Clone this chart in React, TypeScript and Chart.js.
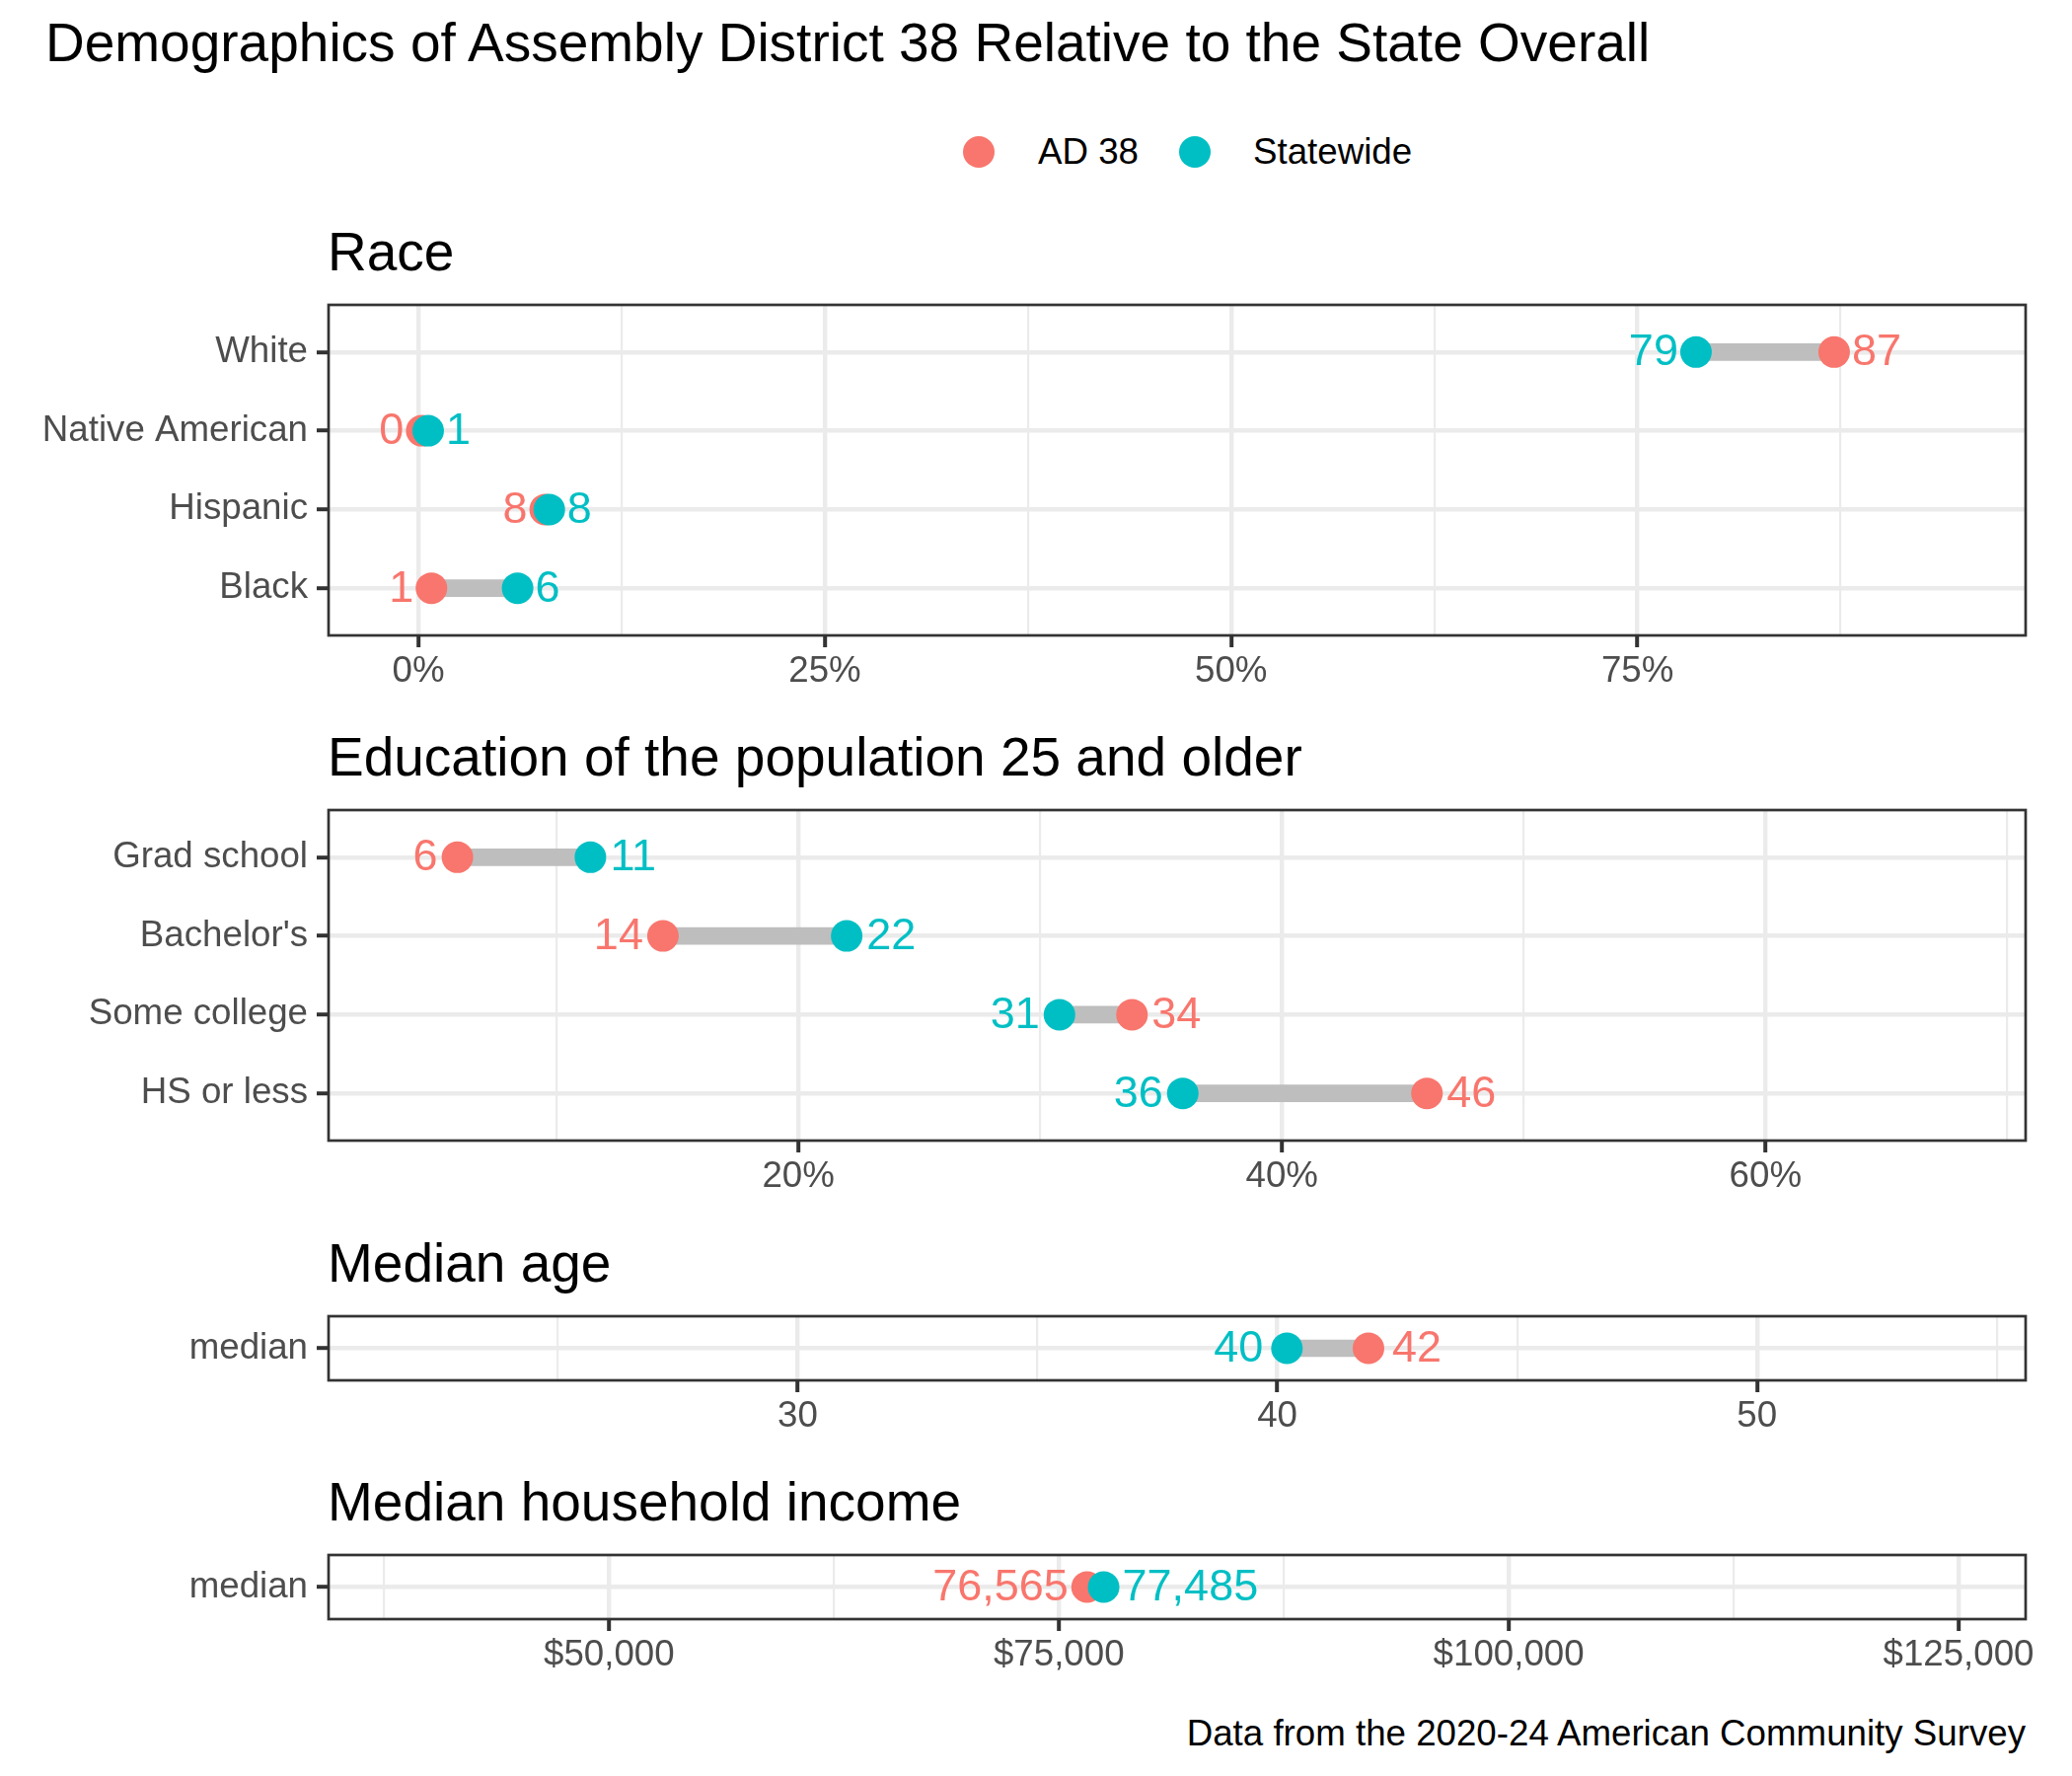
import React, { useEffect, useRef } from 'react';
import { Chart, registerables } from 'chart.js';

Chart.register(...registerables);

const FONT = '"Liberation Sans", Arial, Helvetica, sans-serif';
const AD_COLOR = '#F8766D';
const SW_COLOR = '#00BFC4';

// ---------- data ----------
const seriesNames = ['AD 38', 'Statewide'];

const raceCategories = ['White', 'Native American', 'Hispanic', 'Black'];
const raceAD = [87.1, 0.2, 7.8, 0.8];
const raceSW = [78.6, 0.6, 8.05, 6.1];
const raceTicks = [0, 25, 50, 75];
const raceMinorTicks = [12.5, 37.5, 62.5, 87.5];
const raceRange = [-5.53, 98.88];

const eduCategories = ['Grad school', "Bachelor's", 'Some college', 'HS or less'];
const eduAD = [5.9, 14.4, 33.8, 46.0];
const eduSW = [11.4, 22.0, 30.8, 35.9];
const eduTicks = [20, 40, 60];
const eduMinorTicks = [10, 30, 50, 70];
const eduRange = [0.57, 70.76];

const ageCategories = ['median'];
const ageAD = [41.9];
const ageSW = [40.2];
const ageTicks = [30, 40, 50];
const ageMinorTicks = [25, 35, 45, 55];
const ageRange = [20.22, 55.6];

const incomeCategories = ['median'];
const incomeAD = [76565];
const incomeSW = [77485];
const incomeTicks = [50000, 75000, 100000, 125000];
const incomeMinorTicks = [37500, 62500, 87500, 112500];
const incomeRange = [34408, 128728];

const mainTitle = 'Demographics of Assembly District 38 Relative to the State Overall';
const caption = 'Data from the 2020-24 American Community Survey';

// ---------- layout ----------
const PANEL_LEFT = 333;
const PANEL_RIGHT = 2053;
const PAD_TOP = 80;
const AXIS_H = 70;

const pct = (v: number) => `${v}%`;
const plain = (v: number) => `${v}`;
const dollars = (v: number) => `$${v.toLocaleString('en-US')}`;
const rounded = (v: number) => `${Math.round(v)}`;
const commas = (v: number) => v.toLocaleString('en-US');

type PanelSpec = {
  title: string;
  categories: string[];
  ad: number[];
  sw: number[];
  ticks: number[];
  minor: number[];
  range: number[];
  tickFmt: (v: number) => string;
  valueFmt: (v: number) => string;
  top: number;
  height: number;
  gap: number;
};

const panels: PanelSpec[] = [
  { title: 'Race', categories: raceCategories, ad: raceAD, sw: raceSW, ticks: raceTicks, minor: raceMinorTicks, range: raceRange, tickFmt: pct, valueFmt: rounded, top: 309, height: 335, gap: 18 },
  { title: 'Education of the population 25 and older', categories: eduCategories, ad: eduAD, sw: eduSW, ticks: eduTicks, minor: eduMinorTicks, range: eduRange, tickFmt: pct, valueFmt: rounded, top: 821, height: 335, gap: 20 },
  { title: 'Median age', categories: ageCategories, ad: ageAD, sw: ageSW, ticks: ageTicks, minor: ageMinorTicks, range: ageRange, tickFmt: plain, valueFmt: rounded, top: 1334, height: 65, gap: 24 },
  { title: 'Median household income', categories: incomeCategories, ad: incomeAD, sw: incomeSW, ticks: incomeTicks, minor: incomeMinorTicks, range: incomeRange, tickFmt: dollars, valueFmt: commas, top: 1576, height: 65, gap: 19 },
];

function Panel({ spec }: { spec: PanelSpec }) {
  const ref = useRef<HTMLCanvasElement | null>(null);
  const H = PAD_TOP + spec.height + AXIS_H;

  useEffect(() => {
    const canvas = ref.current;
    if (!canvas) return;
    const { categories, ad, sw, ticks, minor } = spec;
    const isMajor = (v: any) => ticks.includes(v);
    const n = categories.length;

    const decor = {
      id: 'panelDecor',
      afterDatasetsDraw(chart: any) {
        const { ctx, chartArea, scales } = chart;
        ctx.save();
        ctx.font = `45px ${FONT}`;
        ctx.textBaseline = 'middle';
        categories.forEach((_, i) => {
          const y = scales.y.getPixelForValue(i);
          const a = { v: ad[i], c: AD_COLOR };
          const s = { v: sw[i], c: SW_COLOR };
          const low = a.v <= s.v ? a : s;
          const high = a.v <= s.v ? s : a;
          ctx.fillStyle = low.c;
          ctx.textAlign = 'right';
          ctx.fillText(spec.valueFmt(low.v), scales.x.getPixelForValue(low.v) - spec.gap, y + 1);
          ctx.fillStyle = high.c;
          ctx.textAlign = 'left';
          ctx.fillText(spec.valueFmt(high.v), scales.x.getPixelForValue(high.v) + spec.gap, y + 1);
        });
        ctx.strokeStyle = '#333333';
        ctx.lineWidth = 2.7;
        ctx.strokeRect(chartArea.left, chartArea.top, chartArea.right - chartArea.left, chartArea.bottom - chartArea.top);
        ctx.fillStyle = '#000000';
        ctx.font = `55px ${FONT}`;
        ctx.textAlign = 'left';
        ctx.textBaseline = 'alphabetic';
        ctx.fillText(spec.title, chartArea.left - 1, chartArea.top - 35);
        ctx.restore();
      },
    };

    const chart = new Chart(canvas, {
      type: 'scatter',
      data: {
        datasets: [
          {
            type: 'bar',
            indexAxis: 'y',
            label: 'gap',
            data: categories.map((_, i) => ({ x: [ad[i], sw[i]], y: i })),
            backgroundColor: '#BEBEBE',
            barThickness: 17,
            borderWidth: 0,
            order: 3,
          } as any,
          {
            type: 'scatter',
            label: seriesNames[0],
            data: categories.map((_, i) => ({ x: ad[i], y: i })),
            backgroundColor: AD_COLOR,
            pointRadius: 16,
            pointHoverRadius: 16,
            borderWidth: 0,
            order: 2,
          },
          {
            type: 'scatter',
            label: seriesNames[1],
            data: categories.map((_, i) => ({ x: sw[i], y: i })),
            backgroundColor: SW_COLOR,
            pointRadius: 16,
            pointHoverRadius: 16,
            borderWidth: 0,
            order: 1,
          },
        ],
      },
      options: {
        animation: false,
        responsive: false,
        devicePixelRatio: 1,
        events: [],
        layout: { padding: { top: PAD_TOP, left: 0, right: 2100 - PANEL_RIGHT, bottom: 0 } },
        plugins: { legend: { display: false }, tooltip: { enabled: false }, title: { display: false } },
        scales: {
          x: {
            type: 'linear',
            position: 'bottom',
            min: spec.range[0],
            max: spec.range[1],
            offset: false,
            afterBuildTicks: (s: any) => {
              s.ticks = [...ticks, ...minor].sort((p, q) => p - q).map((v) => ({ value: v }));
            },
            afterFit: (s: any) => {
              s.height = AXIS_H;
            },
            grid: {
              offset: false,
              color: '#EBEBEB',
              lineWidth: (c: any) => (isMajor(c.tick?.value) ? 4.4 : 2.2),
              tickColor: (c: any) => (isMajor(c.tick?.value) ? '#333333' : 'rgba(0,0,0,0)'),
              tickLength: 12,
              tickWidth: 4,
              drawTicks: true,
            },
            border: { display: false },
            ticks: {
              autoSkip: false,
              maxRotation: 0,
              minRotation: 0,
              padding: 2.5,
              color: '#4D4D4D',
              font: { family: FONT, size: 36.7 },
              callback: (v: any) => (isMajor(v) ? spec.tickFmt(v) : ''),
            },
          },
          y: {
            type: 'linear',
            min: -0.6,
            max: n - 1 + 0.6,
            reverse: true,
            offset: false,
            afterBuildTicks: (s: any) => {
              s.ticks = categories.map((_, i) => ({ value: i }));
            },
            afterFit: (s: any) => {
              s.width = PANEL_LEFT;
            },
            grid: {
              offset: false,
              color: '#EBEBEB',
              lineWidth: 4.4,
              tickColor: '#333333',
              tickLength: 12,
              tickWidth: 4,
            },
            border: { display: false },
            ticks: {
              autoSkip: false,
              padding: 9,
              color: '#4D4D4D',
              font: { family: FONT, size: 36.7 },
              callback: (v: any) => categories[v] ?? '',
            },
          },
        },
      } as any,
      plugins: [decor],
    });
    return () => chart.destroy();
  }, [spec]);

  return (
    <canvas
      ref={ref}
      width={2100}
      height={H}
      style={{ position: 'absolute', left: 0, top: spec.top - PAD_TOP, width: 2100, height: H }}
    />
  );
}

function textTop(baseline: number, size: number) {
  return baseline - 0.8465 * size;
}

export default function App() {
  const legendItems = [
    { name: seriesNames[0], color: AD_COLOR, dotX: 992, textX: 1052 },
    { name: seriesNames[1], color: SW_COLOR, dotX: 1211, textX: 1270 },
  ];
  return (
    <div style={{ position: 'absolute', left: 0, top: 0, width: 2100, height: 1800, background: '#ffffff', overflow: 'hidden', fontFamily: FONT }}>
      <div style={{ position: 'absolute', left: 46, top: textTop(63, 55), fontSize: 55, lineHeight: '55px', whiteSpace: 'nowrap', color: '#000' }}>
        {mainTitle}
      </div>
      {legendItems.map((it) => (
        <React.Fragment key={it.name}>
          <div style={{ position: 'absolute', left: it.dotX - 16, top: 154 - 16, width: 32, height: 32, borderRadius: '50%', background: it.color }} />
          <div style={{ position: 'absolute', left: it.textX, top: textTop(167, 36.7), fontSize: 36.7, lineHeight: '36.7px', whiteSpace: 'nowrap', color: '#000' }}>
            {it.name}
          </div>
        </React.Fragment>
      ))}
      {panels.map((p) => (
        <Panel key={p.title} spec={p} />
      ))}
      <div style={{ position: 'absolute', left: 0, width: PANEL_RIGHT, top: textTop(1770, 36.7), fontSize: 36.7, lineHeight: '36.7px', whiteSpace: 'nowrap', textAlign: 'right', color: '#000' }}>
        {caption}
      </div>
    </div>
  );
}
